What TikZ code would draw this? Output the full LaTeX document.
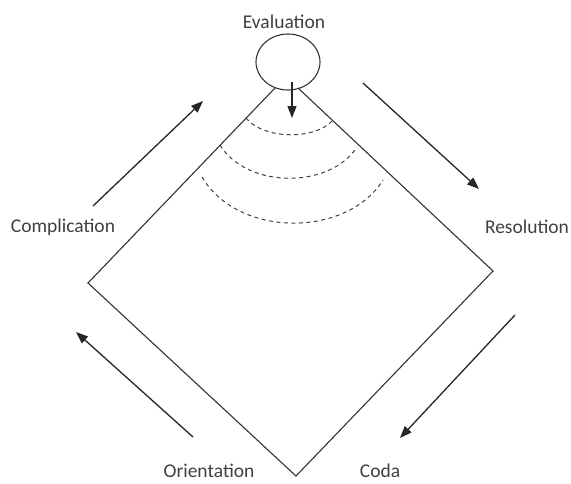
\documentclass[tikz,border=0pt]{standalone}
\usepackage{fontspec}
\setmainfont{Carlito}
\usetikzlibrary{arrows.meta,shapes.geometric}
\tikzset{
  lbl/.style={font=\fontsize{19.5}{22}\selectfont,text=black!75},
  flow/.style={-{Triangle[length=12pt,width=9pt]},line width=1.3pt,black!85},
  edge/.style={line width=1.1pt,black!80},
  ring/.style={dashed,dash pattern=on 4pt off 3.5pt,line width=1pt,black!75}
}
\begin{document}
\begin{tikzpicture}[x=1pt,y=-1pt]
        \useasboundingbox (0,0) rectangle (571,483);
        \node[ellipse,draw,line width=1.1pt,black!80,minimum width=64pt,minimum height=56pt,inner sep=0pt] (eval) at (288,62) {};
        \node[lbl] (evaluation) at (284,22) {Evaluation};
        \node[lbl] (complication) at (63,227) {Complication};
        \node[lbl] (resolution) at (527,227) {Resolution};
        \node[lbl] (orientation) at (209,471) {Orientation};
        \node[lbl] (coda) at (380,471) {Coda};
        \coordinate (tl) at (275,88);
        \coordinate (left) at (88,283);
        \coordinate (bottom) at (296,476);
        \coordinate (right) at (493,271);
        \coordinate (tr) at (298,88);
        \draw[edge] (tl) -- (left) -- (bottom) -- (right) -- (tr);
        \coordinate (a1l) at (246,118);
        \coordinate (a1r) at (333,120);
        \coordinate (a2l) at (220,145);
        \coordinate (a2r) at (357,147);
        \coordinate (a3l) at (202,177);
        \coordinate (a3r) at (383,180);
        \draw[ring] (a1l) .. controls (264,140) and (316,140) .. (a1r);
        \draw[ring] (a2l) .. controls (247,189) and (330,189) .. (a2r);
        \draw[ring] (a3l) .. controls (238,238) and (347,238) .. (a3r);
        \coordinate (down) at (292,118);
        \draw[flow] (292,82) -- (down);
        \coordinate (c1) at (93,206);
        \coordinate (c2) at (203,101);
        \draw[flow] (c1) -- (c2);
        \coordinate (r1) at (363,83);
        \coordinate (r2) at (479,189);
        \draw[flow] (r1) -- (r2);
        \coordinate (d1) at (515,315);
        \coordinate (d2) at (400,438);
        \draw[flow] (d1) -- (d2);
        \coordinate (o1) at (193,437);
        \coordinate (o2) at (76,332);
        \draw[flow] (o1) -- (o2);
\end{tikzpicture}
\end{document}
